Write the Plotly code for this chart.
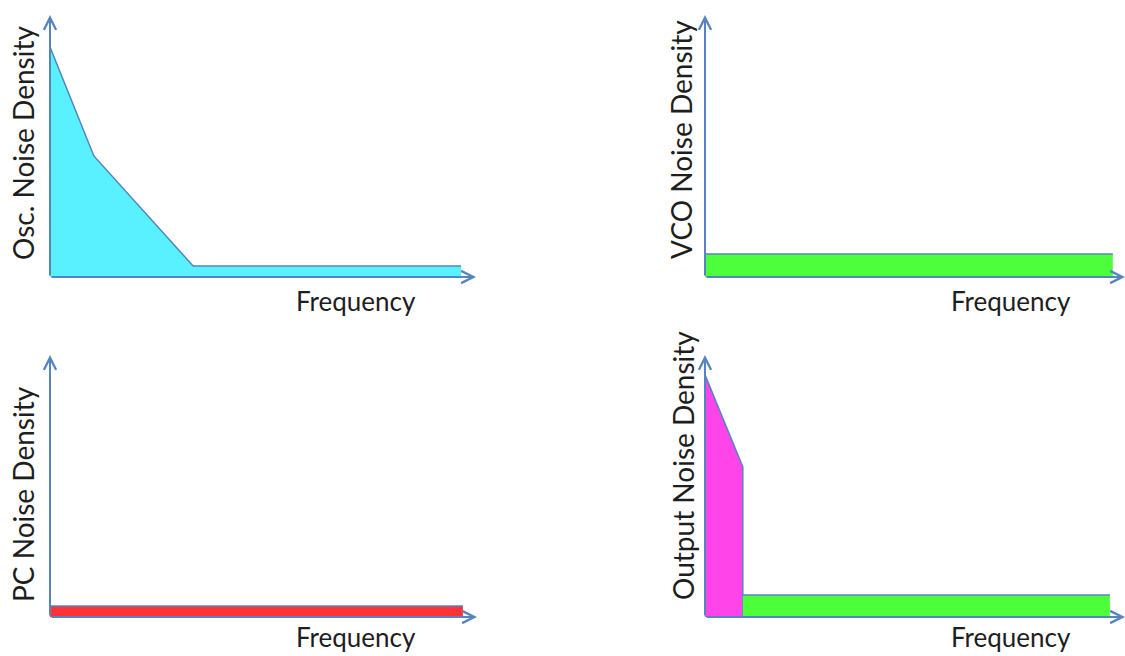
import plotly.graph_objects as go

W, H = 1125, 656

# Noise-density sketches (arbitrary units: frequency 0..10, density 0..10)
osc_freq = [0, 1.03, 3.36, 9.65]
osc_density = [8.78, 4.62, 0.42, 0.42]

vco_freq = [0, 9.71]
vco_density = [0.88, 0.88]

pc_freq = [0, 9.67]
pc_density = [0.42, 0.42]

out_pass_freq = [0, 0.90, 0.90]
out_pass_density = [9.24, 5.73, 0]
out_vco_freq = [0.90, 9.64]
out_vco_density = [0.84, 0.84]

y_titles = ["Osc. Noise Density", "VCO Noise Density", "PC Noise Density", "Output Noise Density"]
x_title = "Frequency"

AXIS_BLUE = "#5584C2"
OUTLINE = "#5584C2"
CYAN = "#59F0FF"
GREEN = "#4DFF3B"
RED = "#FF3336"
MAGENTA = "#FF44E9"
FONT = "Lato"
TEXT = "#1e1e1e"

# panel frames in pixels: (x origin, x arrow tip, y origin, y arrow tip)
frames = [
    (50, 476, 277, 15),
    (705, 1125, 277, 15),
    (50, 477, 617, 355),
    (705, 1125, 617, 355),
]

fig = go.Figure()
layout = dict(width=W, height=H, margin=dict(l=0, r=0, t=0, b=0),
              paper_bgcolor="white", plot_bgcolor="white", showlegend=False)

for i, (x0, x1, y0, y1) in enumerate(frames, start=1):
    sfx = "" if i == 1 else str(i)
    layout[f"xaxis{sfx}"] = dict(domain=[x0 / W, x1 / W], range=[0, 10], visible=False,
                                 fixedrange=True, anchor=f"y{sfx}")
    layout[f"yaxis{sfx}"] = dict(domain=[1 - y0 / H, 1 - y1 / H], range=[0, 10], visible=False,
                                 fixedrange=True, anchor=f"x{sfx}")

fig.update_layout(**layout)


def area(x, y, color, ax):
    fig.add_trace(go.Scatter(
        x=x, y=y, mode="lines", fill="tozeroy", fillcolor=color,
        line=dict(color=OUTLINE, width=1.5), hoverinfo="skip",
        xaxis=f"x{ax}", yaxis=f"y{ax}"))


area(osc_freq, osc_density, CYAN, "")
area(vco_freq, vco_density, GREEN, "2")
area(pc_freq, pc_density, RED, "3")
area(out_pass_freq, out_pass_density, MAGENTA, "4")
area(out_vco_freq, out_vco_density, GREEN, "4")

annotations = []
for i in range(1, 5):
    sfx = "" if i == 1 else str(i)
    for hx, hy in ((10, 0), (0, 10)):
        annotations.append(dict(
            x=hx, y=hy, ax=0, ay=0, xref=f"x{sfx}", yref=f"y{sfx}",
            axref=f"x{sfx}", ayref=f"y{sfx}", text="", showarrow=True,
            arrowhead=5, arrowsize=1.2, arrowwidth=2, arrowcolor=AXIS_BLUE,
            standoff=0, startstandoff=0))

# axis captions
x_title_pos = [(356, 301), (1011, 301), (356, 637), (1011, 637)]
for (px, py) in x_title_pos:
    annotations.append(dict(x=px / W, y=1 - py / H, xref="paper", yref="paper",
                            text=x_title, showarrow=False,
                            font=dict(family=FONT, size=26, color=TEXT),
                            xanchor="center", yanchor="middle"))

y_title_pos = [(23, 143), (681, 139), (23, 494), (683, 466)]
for title, (px, py) in zip(y_titles, y_title_pos):
    annotations.append(dict(x=px / W, y=1 - py / H, xref="paper", yref="paper",
                            text=title, showarrow=False, textangle=-90,
                            font=dict(family=FONT, size=28, color=TEXT),
                            xanchor="center", yanchor="middle"))

fig.update_layout(annotations=annotations)
fig.write_html("out.html")
